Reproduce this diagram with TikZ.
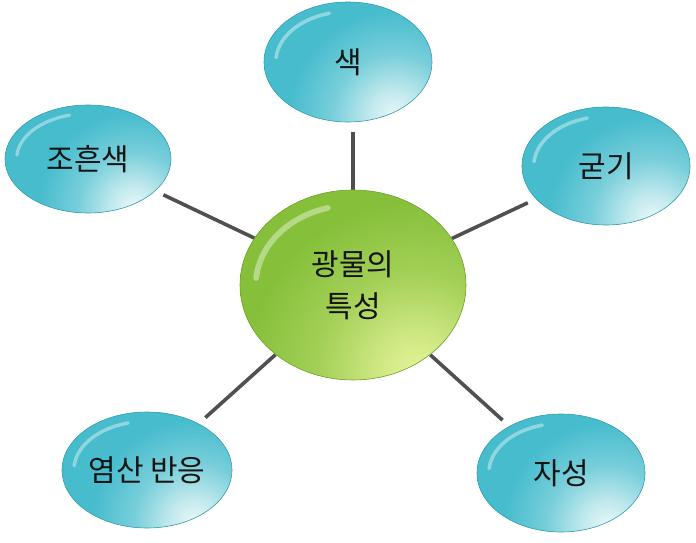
\documentclass[tikz,border=0pt]{standalone}
\usepackage{fontspec}
\setmainfont{Noto Sans CJK KR}
\usetikzlibrary{backgrounds,shapes.geometric}
\definecolor{bluebase}{HTML}{46BCCD}
\definecolor{bluelight}{HTML}{EAF8F8}
\definecolor{greenbase}{HTML}{86C03A}
\definecolor{greenlight}{HTML}{E4F398}
\definecolor{linkgray}{HTML}{505050}
\definecolor{txt}{HTML}{151515}
\pgfdeclareradialshading{bluegloss}{\pgfpoint{0bp}{0bp}}{%
  color(0bp)=(bluelight); color(4bp)=(bluelight!75!bluebase);
  color(10bp)=(bluelight!30!bluebase); color(17bp)=(bluebase); color(50bp)=(bluebase)}
\pgfdeclareradialshading{greengloss}{\pgfpoint{0bp}{0bp}}{%
  color(0bp)=(greenlight); color(4bp)=(greenlight!75!greenbase);
  color(10bp)=(greenlight!30!greenbase); color(17bp)=(greenbase); color(50bp)=(greenbase)}
\tikzset{
  bubble/.style={ellipse, inner sep=0pt, text=txt, font=\fontsize{30}{42}\selectfont, align=center},
  link/.style={draw=linkgray, line width=3.6pt}
}
% #1 name, #2 x, #3 y, #4 rx, #5 ry, #6 base, #7 shading, #8 text
\newcommand{\bub}[8]{%
  \node[bubble, minimum width=#4*2pt, minimum height=#5*2pt,
    fill=#6, draw=#6!85!black, line width=0.6pt,
    path picture={
      \shade[shading=#7]
        ([shift={(#4*0.55pt,-#5*0.9pt)}]path picture bounding box.center) circle (#5*2.6pt);
      \draw[white, opacity=0.4, line width=#5*0.06pt, line cap=round]
        ([shift={({#4*0.86pt*cos(105)},{#5*0.84pt*sin(105)})}]path picture bounding box.center)
        arc[start angle=105, end angle=175, x radius=#4*0.86pt, y radius=#5*0.84pt];
    }] (#1) at (#2pt,#3pt) {#8};}
\begin{document}
\begin{tikzpicture}[x=1pt,y=1pt]
\useasboundingbox (0,0) rectangle (696,542);
\bub{c}{353}{257}{113}{95}{greenbase}{greengloss}{광물의\\특성}
\bub{s1}{348}{480}{84}{60}{bluebase}{bluegloss}{색}
\bub{s2}{88}{383}{83}{54}{bluebase}{bluegloss}{조흔색}
\bub{s3}{606}{376}{84}{59}{bluebase}{bluegloss}{굳기}
\bub{s4}{147}{72}{85}{58}{bluebase}{bluegloss}{염산 반응}
\bub{s5}{561}{69}{84}{59}{bluebase}{bluegloss}{자성}
\begin{pgfonlayer}{background}
\draw[link] (c.north) -- ([yshift=-10pt]c |- s1.south);
\foreach \n in {s2,s3,s4,s5}
  \draw[link, shorten >=9pt] (c) -- (\n);
\end{pgfonlayer}
\end{tikzpicture}
\end{document}
